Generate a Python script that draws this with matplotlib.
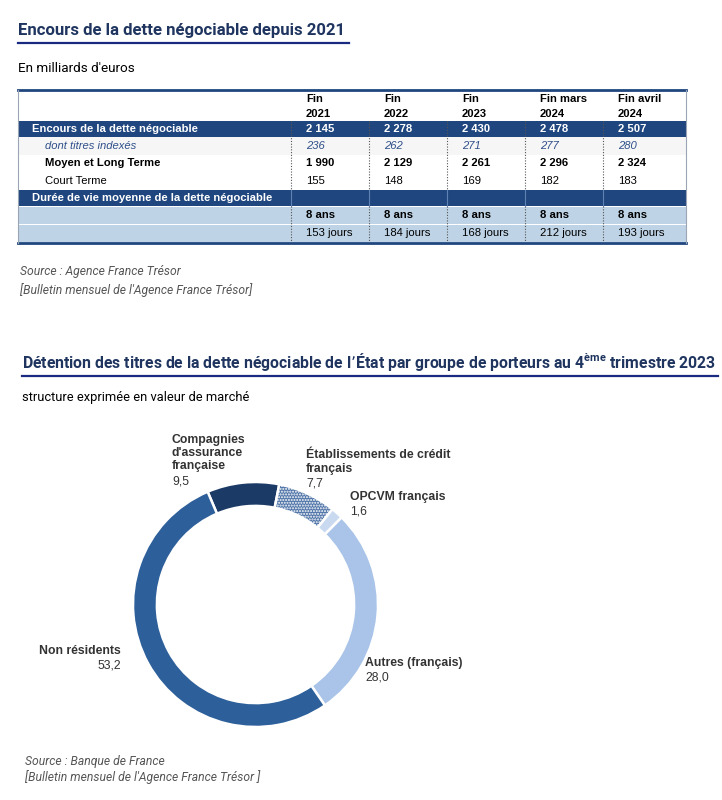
import numpy as np
import matplotlib.pyplot as plt
from matplotlib.patches import Rectangle

plt.rcParams['font.family'] = ['Liberation Sans', 'DejaVu Sans']
plt.rcParams['hatch.color'] = 'white'

# --- table data ---
col_top = ["Fin", "Fin", "Fin", "Fin mars", "Fin avril"]
col_year = ["2021", "2022", "2023", "2024", "2024"]
encours = [2145, 2278, 2430, 2478, 2507]
indexes = [236, 262, 271, 277, 280]
moyen_long = [1990, 2129, 2261, 2296, 2324]
court = [155, 148, 169, 182, 183]
duree_ans = [8, 8, 8, 8, 8]
duree_jours = [153, 184, 168, 212, 193]

# --- donut data ---
porteurs = ["Compagnies\nd'assurance\nfrançaise", "Établissements de crédit\nfrançais",
            "OPCVM français", "Autres (français)", "Non résidents"]
parts = [9.5, 7.7, 1.6, 28.0, 53.2]
couleurs = ["#1b3a66", "#4f74a8", "#c9daf0", "#a9c4e8", "#2d5f9a"]

W, H = 722, 800
fig = plt.figure(figsize=(W / 100, H / 100), dpi=100)
ax = fig.add_axes([0, 0, 1, 1])
ax.set_xlim(0, W)
ax.set_ylim(H, 0)
ax.axis('off')

navy = "#1f3560"
dark = "#1f467e"
light = "#bed3e5"
roboto = ['Roboto', 'DejaVu Sans']

def fmt(v):
    return f"{v:,}".replace(",", " ")

# titres
ax.text(18, 31, "Encours de la dette négociable depuis 2021", fontsize=12.1, fontweight='bold',
        color=navy, va='center', family=roboto)
ax.plot([18, 349], [43, 43], color="#1a2a80", lw=1.6)
ax.text(18, 68, "En milliards d'euros", fontsize=9.7, va='center', family=roboto)

# tableau
tx0, tx1 = 18, 686
seps = [291 + 78 * i for i in range(5)]

ax.add_patch(Rectangle((tx0, 121), tx1 - tx0, 16, color=dark, lw=0))
ax.add_patch(Rectangle((tx0, 137), tx1 - tx0, 18, color="#f6f6f6", lw=0))
ax.add_patch(Rectangle((tx0, 190), tx1 - tx0, 16, color=dark, lw=0))
ax.add_patch(Rectangle((tx0, 207), tx1 - tx0, 17, color=light, lw=0))
ax.add_patch(Rectangle((tx0, 225), tx1 - tx0, 17, color=light, lw=0))
ax.plot([tx0, tx1], [90, 90], color=dark, lw=2)
ax.plot([tx0, tx1], [243, 243], color=dark, lw=2)
ax.plot([tx0, tx0], [90, 243], color="#9aa5b5", lw=0.8)
ax.plot([tx1, tx1], [90, 243], color="#9aa5b5", lw=0.8)
for s in seps:
    ax.plot([s, s], [121, 190], color="#555555", lw=0.8, ls=(0, (1, 1.5)))
    ax.plot([s, s], [206, 242], color="#555555", lw=0.8, ls=(0, (1, 1.5)))
    ax.plot([s, s], [190, 206], color="#5d82b3", lw=0.8)

fs = 8.1
for i in range(5):
    x = seps[i] + 15
    ax.text(x, 99, col_top[i], fontsize=fs, fontweight='bold', va='center')
    ax.text(x, 114, col_year[i], fontsize=fs, fontweight='bold', va='center')
    ax.text(x, 129, fmt(encours[i]), fontsize=fs, fontweight='bold', color='white', va='center')
    ax.text(x, 146, fmt(indexes[i]), fontsize=fs, style='italic', color="#2f4f8a", va='center')
    ax.text(x, 163.5, fmt(moyen_long[i]), fontsize=fs, fontweight='bold', va='center')
    ax.text(x, 181, fmt(court[i]), fontsize=fs, va='center')
    ax.text(x, 215.5, f"{duree_ans[i]} ans", fontsize=fs, fontweight='bold', va='center')
    ax.text(x, 233.5, f"{duree_jours[i]} jours", fontsize=fs, va='center')

ax.text(32, 129, "Encours de la dette négociable", fontsize=fs, fontweight='bold', color='white', va='center')
ax.text(45, 146, "dont titres indexés", fontsize=fs, style='italic', color="#2f4f8a", va='center')
ax.text(45, 163.5, "Moyen et Long Terme", fontsize=fs, fontweight='bold', va='center')
ax.text(45, 181, "Court Terme", fontsize=fs, va='center')
ax.text(32, 198, "Durée de vie moyenne de la dette négociable", fontsize=fs, fontweight='bold',
        color='white', va='center')

src = dict(fontsize=8.7, style='italic', color="#555555", va='center', family=roboto)
ax.text(20, 272, "Source : Agence France Trésor", **src)
ax.text(20, 290, "[Bulletin mensuel de l'Agence France Trésor]", **src)

# second titre
ax.text(22, 362, "Détention des titres de la dette négociable de l’État par groupe de porteurs au 4$^{\\mathregular{ème}}$ trimestre 2023",
        fontsize=11.3, fontweight='bold', color=navy, va='center', family=roboto)
ax.plot([22, 718], [376, 376], color="#1a2a80", lw=1.6)
ax.text(22, 397, "structure exprimée en valeur de marché", fontsize=9.3, va='center', family=roboto)

# anneau
cx, cy, r = 255.5, 604.5, 122.5
pax = fig.add_axes([(cx - r) / W, (H - cy - r) / H, 2 * r / W, 2 * r / H])
wedges, _ = pax.pie(parts, colors=couleurs, startangle=113, counterclock=False, radius=1,
                    wedgeprops=dict(width=0.195, edgecolor='white', linewidth=1.8))
wedges[1].set_hatch('......')
pax.set_xlim(-1, 1)
pax.set_ylim(-1, 1)

lab = dict(fontsize=8.8, color="#333333", va='center')
label_pos = [(172, 439, 'left'), (306, 455, 'left'), (350, 497, 'left'), (365, 663, 'left'), (121, 651, 'right')]
for name, val, (lx, ly, ha) in zip(porteurs, parts, label_pos):
    n = name.count("\n") + 1
    ax.text(lx, ly + (n - 1) * 7, name, fontweight='bold', ha=ha, linespacing=1.13, **lab)
    ax.text(lx, ly + n * 14.3, f"{val:.1f}".replace(".", ","), ha=ha, **lab)

ax.text(25, 761, "Source : Banque de France", **src)
ax.text(25, 777, "[Bulletin mensuel de l'Agence France Trésor ]", **src)

fig.savefig("out.png", dpi=100)
